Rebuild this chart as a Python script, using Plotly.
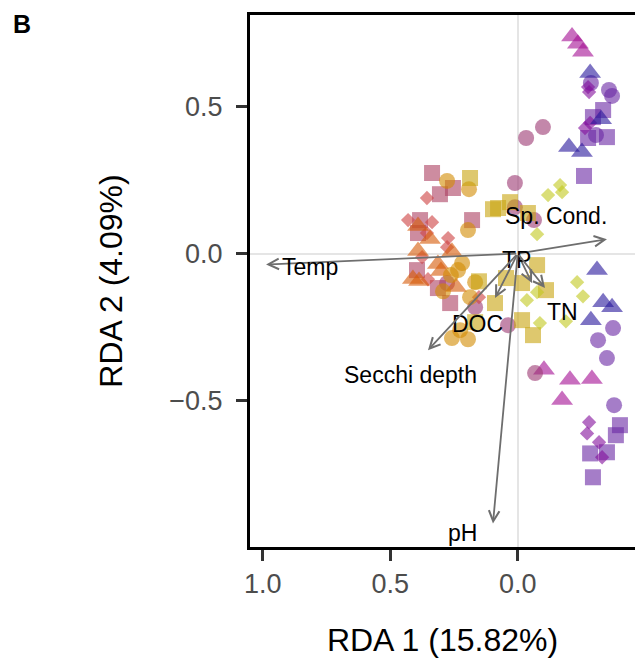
import plotly.graph_objects as go

# ---- sample scores (RDA1, RDA2) by group ----
bluetri_x = [-0.284, -0.327, -0.201, -0.252, -0.311, -0.335, -0.370, -0.287]
bluetri_y = [0.614, 0.457, 0.362, 0.345, -0.056, -0.165, -0.182, -0.226]

purcirc_x = [-0.287, -0.358, -0.370, -0.307, -0.374, -0.315, -0.350, -0.378]
purcirc_y = [0.580, 0.556, 0.536, 0.403, -0.253, -0.294, -0.355, -0.515]

pursq_x = [-0.335, -0.295, -0.350, -0.276, -0.260, -0.401, -0.385, -0.284, -0.350, -0.295]
pursq_y = [0.488, 0.464, 0.396, 0.393, 0.264, -0.583, -0.617, -0.679, -0.675, -0.760]

purdia_x = [-0.276, -0.280, -0.264, -0.284, -0.280, -0.272, -0.319, -0.331]
purdia_y = [0.566, 0.549, 0.427, 0.444, -0.573, -0.611, -0.641, -0.692]

magtri_x = [-0.213, -0.236, -0.256, -0.103, -0.205, -0.291, -0.174]
magtri_y = [0.738, 0.713, 0.686, -0.395, -0.429, -0.426, -0.497]

mauvecirc_x = [-0.033, -0.099, 0.011, 0.011, -0.064, 0.277, 0.167, 0.038, -0.068]
mauvecirc_y = [0.393, 0.430, 0.240, 0.158, 0.114, -0.100, -0.182, -0.243, -0.406]

pinksq_x = [0.336, 0.254, 0.305, 0.179, 0.383, 0.391, 0.395, 0.313, 0.265]
pinksq_y = [0.274, 0.223, 0.202, 0.114, 0.114, 0.070, -0.056, -0.117, -0.168]

pinkdia_x = [0.356, 0.430, 0.336, 0.356, 0.273, 0.277, 0.375, 0.352, 0.152]
pinkdia_y = [0.189, 0.114, 0.107, 0.070, 0.053, 0.022, -0.012, -0.087, -0.148]

orangetri_x = [0.391, 0.344, 0.258, 0.391, 0.313, 0.301, 0.411, 0.387, 0.242]
orangetri_y = [0.094, 0.050, 0.006, 0.009, -0.035, -0.059, -0.086, -0.093, -0.113]

goldcirc_x = [0.277, 0.191, 0.195, 0.218, 0.234, 0.262, 0.293, 0.167, 0.187, 0.258, 0.195, 0.226]
goldcirc_y = [0.247, 0.219, 0.080, -0.032, -0.056, -0.073, -0.128, -0.097, -0.148, -0.287, -0.291, -0.260]

goldsq_x = [0.187, 0.097, 0.077, 0.030, -0.040, 0.152, 0.089, 0.046, -0.017, -0.076, -0.111, -0.017, -0.060, 0.167]
goldsq_y = [0.257, 0.151, 0.155, 0.175, 0.138, -0.094, -0.168, -0.083, -0.100, -0.039, -0.124, -0.226, -0.277, -0.233]

ygdia_x = [-0.119, -0.166, -0.174, -0.076, -0.036, -0.076, -0.087, -0.189, -0.233, -0.256]
ygdia_y = [0.199, 0.233, 0.209, 0.066, -0.158, -0.131, -0.236, -0.230, -0.097, -0.145]

# ---- environmental vectors ----
env_names = ["Temp", "Sp. Cond.", "TP", "TN", "DOC", "Secchi depth", "pH"]
env_x = [0.987, -0.350, -0.056, -0.107, 0.089, 0.352, 0.097]
env_y = [-0.037, 0.049, -0.100, -0.117, -0.151, -0.328, -0.917]
lab_x = [0.815, -0.152, 0.004, -0.176, 0.156, 0.422, 0.218]
lab_y = [-0.046, 0.128, -0.022, -0.200, -0.238, -0.414, -0.950]

# ---- axis ----
x_ticks = [1.0, 0.5, 0.0]
y_ticks = [0.5, 0.0, -0.5]
x_title = "RDA 1 (15.82%)"
y_title = "RDA 2 (4.09%)"

groups = [
    (pursq_x, pursq_y, "square", 16, "rgb(105,38,163)"),
    (purcirc_x, purcirc_y, "circle", 16, "rgb(105,38,163)"),
    (purdia_x, purdia_y, "diamond", 11, "rgb(130,13,155)"),
    (bluetri_x, bluetri_y, "triangle-up", 19, "rgb(38,22,155)"),
    (magtri_x, magtri_y, "triangle-up", 19, "rgb(163,13,147)"),
    (mauvecirc_x, mauvecirc_y, "circle", 16, "rgb(155,55,113)"),
    (pinksq_x, pinksq_y, "square", 16, "rgb(172,63,97)"),
    (pinkdia_x, pinkdia_y, "diamond", 11, "rgb(205,63,63)"),
    (orangetri_x, orangetri_y, "triangle-up", 19, "rgb(213,88,5)"),
    (goldcirc_x, goldcirc_y, "circle", 16, "rgb(210,138,0)"),
    (goldsq_x, goldsq_y, "square", 16, "rgb(200,163,13)"),
    (ygdia_x, ygdia_y, "diamond", 11, "rgb(193,200,30)"),
]

fig = go.Figure()
for gx, gy, sym, sz, col in groups:
    fig.add_trace(go.Scatter(
        x=gx, y=gy, mode="markers",
        marker=dict(symbol=sym, size=sz, color=col, opacity=0.6, line=dict(width=0)),
        showlegend=False, hoverinfo="skip"))

for name, ex, ey, lx, ly in zip(env_names, env_x, env_y, lab_x, lab_y):
    fig.add_annotation(x=ex, y=ey, ax=0, ay=0, xref="x", yref="y", axref="x", ayref="y",
                       text="", showarrow=True, arrowhead=5, arrowsize=1.15,
                       arrowwidth=1.8, arrowcolor="#6e6e6e", standoff=0)
    fig.add_annotation(x=lx, y=ly, xref="x", yref="y", text=name, showarrow=False,
                       font=dict(size=23, color="black", family="Liberation Sans, Arial"),
                       xanchor="center", yanchor="middle")

fig.add_annotation(x=-0.592, y=0.983, xref="paper", yref="paper", text="<b>B</b>",
                   showarrow=False, xanchor="center", yanchor="middle",
                   font=dict(size=25, color="black", family="Liberation Sans, Arial"))

fig.update_layout(
    width=635, height=665,
    margin=dict(l=250, r=0, t=15, b=118),
    paper_bgcolor="white", plot_bgcolor="white",
    font=dict(family="Liberation Sans, Arial", color="black"),
    xaxis=dict(range=[1.05, -0.46], tickvals=x_ticks, ticktext=["1.0", "0.5", "0.0"],
               showgrid=False, zeroline=True, zerolinecolor="#e5e5e5", zerolinewidth=2,
               showline=True, linecolor="black", linewidth=3, mirror=True,
               ticks="outside", ticklen=11, tickwidth=3, tickcolor="#333333",
               tickfont=dict(size=27, color="#4d4d4d"),
               title=dict(text=x_title, font=dict(size=32, color="black"), standoff=31)),
    yaxis=dict(range=[-0.997, 0.811], tickvals=y_ticks, ticktext=["0.5", "0.0", "\u22120.5"],
               showgrid=False, zeroline=True, zerolinecolor="#e5e5e5", zerolinewidth=2,
               showline=True, linecolor="black", linewidth=3,
               ticks="outside", ticklen=11, tickwidth=3, tickcolor="#333333",
               tickfont=dict(size=27, color="#4d4d4d"), ticklabelstandoff=8,
               title=dict(text=y_title, font=dict(size=32, color="black"), standoff=38)),
)

fig.write_html("out.html")
